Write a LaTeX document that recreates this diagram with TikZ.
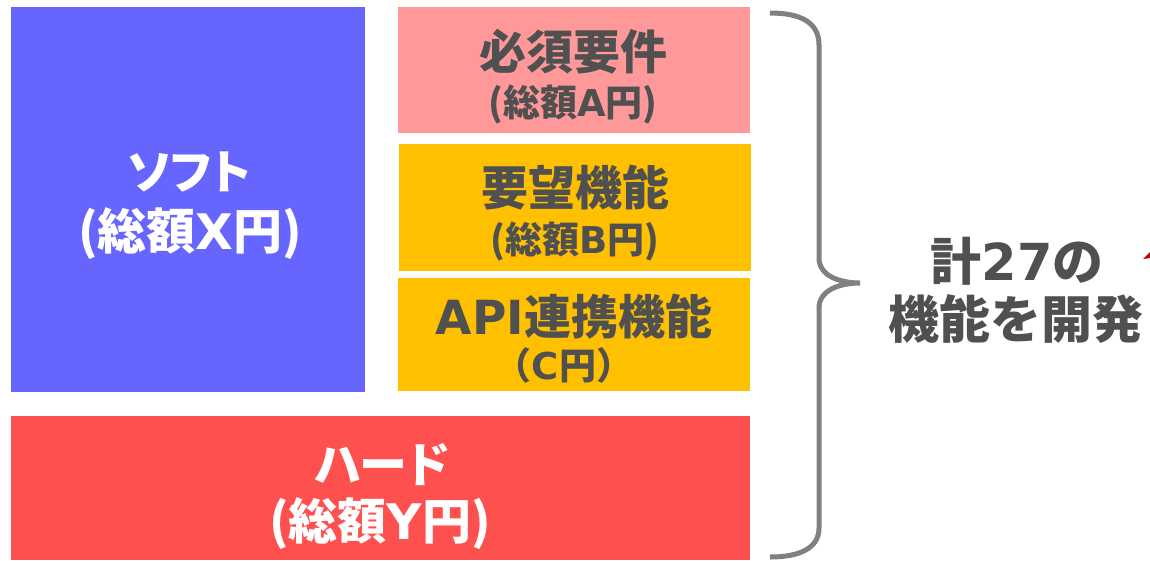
\documentclass[tikz,border=0pt]{standalone}
\usepackage{fontspec}
\newfontfamily\jp{Noto Sans CJK JP}
\newfontfamily\jpp{Noto Sans CJK JP}[RawFeature=+palt]
\newfontfamily\lat{DejaVu Sans}
\definecolor{softblue}{HTML}{6666FF}
\definecolor{reqpink}{HTML}{FF9999}
\definecolor{wantyellow}{HTML}{FFC000}
\definecolor{hardred}{HTML}{FF5050}
\definecolor{txtgray}{HTML}{505050}
\definecolor{bracegray}{HTML}{808080}
\definecolor{arrowred}{HTML}{C00000}
\begin{document}
\begin{tikzpicture}[x=1pt,y=-1pt,
  box/.style={draw=none,inner sep=0pt,outer sep=0pt},
  ln/.style={inner sep=0pt,anchor=base,font=\jp\bfseries\fontsize{#1}{#1}\selectfont},
  lnp/.style={inner sep=0pt,anchor=base,font=\jpp\bfseries\fontsize{#1}{#1}\selectfont},
  wt/.style={text=white},
  gt/.style={text=txtgray}]
\useasboundingbox (0,0) rectangle (1150,560);
\fill[white] (0,0) rectangle (1150,560);
% boxes
\node[box,fill=softblue,minimum width=354pt,minimum height=385pt] (soft) at (188,199.5) {};
\node[box,fill=reqpink,minimum width=352pt,minimum height=126pt] (req) at (574,70) {};
\node[box,fill=wantyellow,minimum width=352pt,minimum height=127pt] (want) at (575,207.5) {};
\node[box,fill=wantyellow,minimum width=352pt,minimum height=113pt] (api) at (574,334.5) {};
\node[box,fill=hardred,minimum width=739pt,minimum height=144pt] (hard) at (380.5,488) {};
% texts (base line positions)
\node[lnp=47,wt] (soft1) at (189,189) {ソフト};
\node[ln=49,wt] (soft2) at (190,249.5) {(総額{\lat\bfseries X}円)};
\node[ln=47,gt] (req1) at (573,69) {必須要件};
\node[ln=37,gt] (req2) at (573,116.5) {(総額{\lat\bfseries A}円)};
\node[ln=47,gt] (want1) at (575,205) {要望機能};
\node[ln=37,gt] (want2) at (575,253.5) {(総額{\lat\bfseries B}円)};
\node[ln=47,gt] (api1) at (574,334) {{\lat\bfseries API}連携機能};
\node[ln=37,gt] (api2) at (564,379.5) {（{\lat\bfseries C}円）};
\node[lnp=48,wt] (hard1) at (382,482) {ハード};
\node[ln=49,wt] (hard2) at (380,539.5) {(総額{\lat\bfseries Y}円)};
\node[ln=51,gt] (tot1) at (1017,280.5) {計{\lat\bfseries 27}の};
\node[ln=51,gt] (tot2) at (1016,338.5) {機能を開発};
% brace
\coordinate (bt) at (770,13);
\coordinate (bm) at (860,283);
\coordinate (bb) at (770,557);
\draw[bracegray,line width=5pt]
  (bt) .. controls (800,13) and (819,22) .. (819,45)
  -- (819,258) .. controls (819,276) and (840,283) .. (bm)
  .. controls (840,283) and (819,290) .. (819,308)
  -- (819,528) .. controls (819,548) and (800,557) .. (bb);
% red fragment at the right edge
\fill[arrowred] (1143,259) -- (1150,252) -- (1150,258) -- cycle;
\end{tikzpicture}
\end{document}
